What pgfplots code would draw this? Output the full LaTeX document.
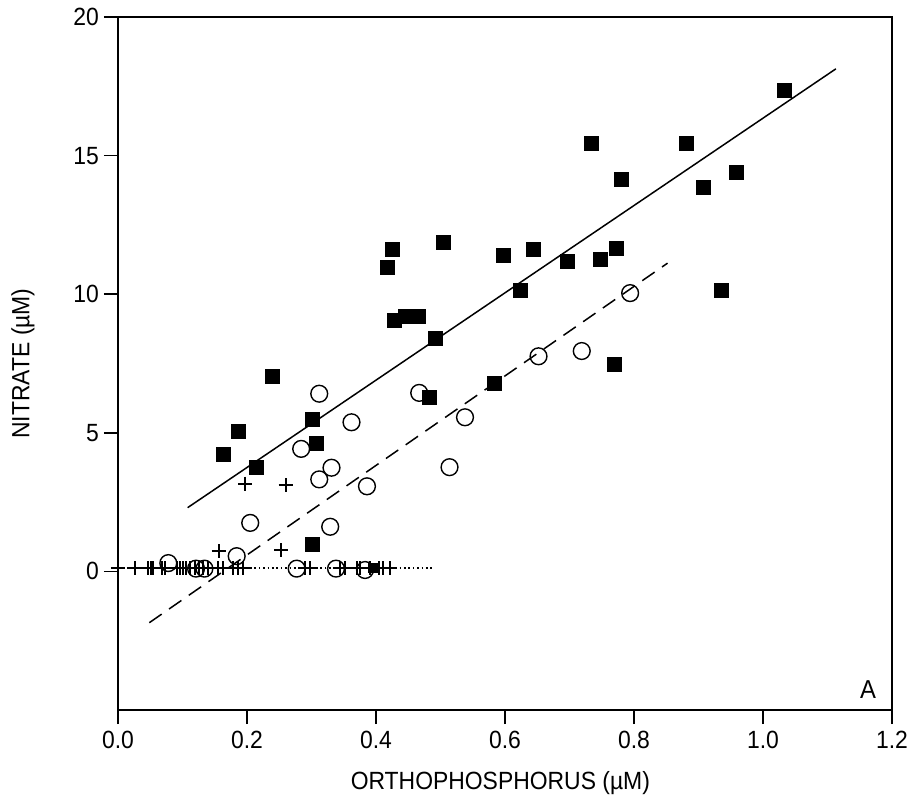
\documentclass[border=0pt]{standalone}
\usepackage{fontspec}
\setmainfont[FakeStretch=0.92]{Liberation Sans}
\usepackage{pgfplots}
\pgfplotsset{compat=1.18}
\begin{document}
\begin{tikzpicture}
\path[use as bounding box] (-59bp,-48bp) rectangle (395.5bp,355bp);
\begin{axis}[
  at={(0,0)}, anchor=south west,
  width=387bp, height=346.5bp, scale only axis,
  xmin=0, xmax=1.2, ymin=-5, ymax=20,
  xtick={0,0.2,0.4,0.6,0.8,1.0,1.2},
  ytick={0,5,10,15,20},
  tick align=outside, tick pos=left,
  major tick length=7bp,
  axis line style={line width=1bp},
  every tick/.style={line width=0.9bp, black},
  /pgf/number format/assume math mode=true,
  xticklabel style={/pgf/number format/.cd, fixed, fixed zerofill, precision=1},
  tick label style={font=\fontsize{12.5}{14}\selectfont},
  yticklabel style={xshift=1bp},
  label style={font=\fontsize{12.5}{14}\selectfont},
  xlabel={ORTHOPHOSPHORUS (µM)},
  ylabel={NITRATE (µM)},
  xlabel style={at={(axis description cs:0.494,-0.1053)}, anchor=center},
  ylabel style={at={(axis description cs:-0.1227,0.5)}, anchor=center},
  clip=false,
]
% regression lines
\addplot[black, line width=0.75bp] coordinates {(0.108,2.30) (1.113,18.13)};
\addplot[black, line width=0.75bp, dash pattern=on 7.5bp off 4.5bp] coordinates {(0.0486,-1.85) (0.852,11.12)};
\addplot[black, line width=0.8bp, dash pattern=on 0.8bp off 1.4bp] coordinates {(0.0,0.12) (0.49,0.12)};
% crosses
\addplot[only marks, mark=+, mark size=3.5bp, mark options={line width=1bp, black}] coordinates {
(0.197,3.17) (0.260,3.10) (0.156,0.73) (0.253,0.77)
(0.0,0.12) (0.026,0.12) (0.047,0.12) (0.051,0.12) (0.054,0.12) (0.068,0.12) (0.073,0.12)
(0.091,0.12) (0.096,0.12) (0.101,0.12) (0.106,0.12) (0.112,0.12) (0.119,0.12) (0.126,0.12)
(0.132,0.12) (0.140,0.12) (0.155,0.12) (0.163,0.12) (0.178,0.12) (0.186,0.12) (0.194,0.12)
(0.290,0.12) (0.298,0.12) (0.344,0.12) (0.352,0.12) (0.370,0.12) (0.375,0.12) (0.391,0.12)
(0.404,0.12) (0.411,0.12) (0.422,0.12)
};
% circles
\addplot[only marks, mark=o, mark size=4.2bp, mark options={line width=0.7bp, black}] coordinates {
(0.312,6.41) (0.467,6.44) (0.362,5.38) (0.538,5.56) (0.284,4.42) (0.331,3.74) (0.312,3.32)
(0.514,3.76) (0.386,3.07) (0.205,1.75) (0.329,1.61) (0.184,0.55) (0.652,7.76) (0.719,7.95)
(0.794,10.04) (0.078,0.30) (0.121,0.10) (0.134,0.10) (0.277,0.10) (0.338,0.10) (0.383,0.05)
};
% filled squares
\addplot[only marks, mark=square*, mark size=3.5bp, mark options={black, fill=black}] coordinates {
(0.163,4.22) (0.186,5.04) (0.214,3.75) (0.239,7.05) (0.302,5.48) (0.307,4.61) (0.301,0.97)
(0.417,10.95) (0.426,11.60) (0.429,9.05) (0.445,9.19) (0.465,9.19) (0.492,8.40) (0.483,6.27)
(0.505,11.86) (0.583,6.77) (0.597,11.39) (0.624,10.13) (0.644,11.60) (0.697,11.20) (0.748,11.24)
(0.773,11.64) (0.769,7.46) (0.734,15.44) (0.781,14.13) (0.881,15.44) (0.907,13.87) (0.959,14.41)
(0.936,10.13) (1.033,17.37)
};
\addplot[only marks, mark=square*, mark size=2.2bp, mark options={black, fill=black}] coordinates {(0.395,0.12)};
\node[font=\fontsize{13}{15}\selectfont] at (axis cs:1.163,-4.25) {A};
\end{axis}
\end{tikzpicture}
\end{document}
